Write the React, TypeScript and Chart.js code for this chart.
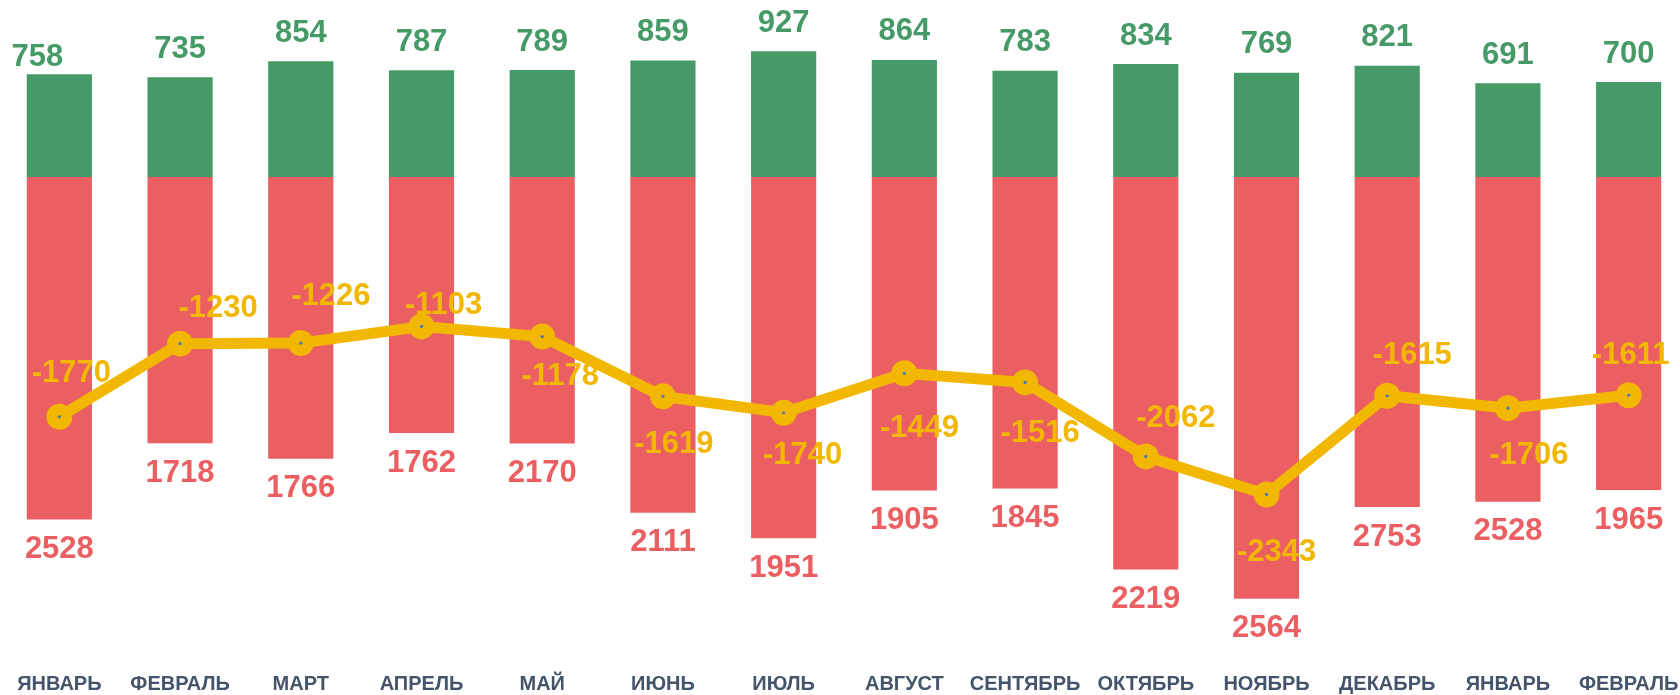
import React, { useEffect, useRef } from "react";
import { Chart, registerables } from "chart.js";

Chart.register(...registerables);

const months = [
  "ЯНВАРЬ", "ФЕВРАЛЬ", "МАРТ", "АПРЕЛЬ", "МАЙ", "ИЮНЬ", "ИЮЛЬ",
  "АВГУСТ", "СЕНТЯБРЬ", "ОКТЯБРЬ", "НОЯБРЬ", "ДЕКАБРЬ", "ЯНВАРЬ", "ФЕВРАЛЬ",
];
const incomeValues = [758, 735, 854, 787, 789, 859, 927, 864, 783, 834, 769, 821, 691, 700];
const expenseValues = [2528, 1965, 2080, 1890, 1967, 2478, 2667, 2313, 2299, 2896, 3112, 2436, 2397, 2311];
const expenseLabels = [2528, 1718, 1766, 1762, 2170, 2111, 1951, 1905, 1845, 2219, 2564, 2753, 2528, 1965];
const netValues = [-1770, -1230, -1226, -1103, -1178, -1619, -1740, -1449, -1516, -2062, -2343, -1615, -1706, -1611];

// label placement (pixel offsets from the point), styling only
const netLabelOffsets: [number, number][] = [
  [12, -43], [38, -35], [30, -47], [22, -21], [18, 40], [11, 48], [19, 43],
  [15, 55], [15, 51], [30, -38], [10, 58], [25, -40], [21, 47], [2, -40],
];
const incomeLabelShift: [number, number][] = [
  [-22, 11], [0, 0], [0, 0], [0, 0], [0, 0], [0, 0], [0, 0],
  [0, 0], [0, 0], [0, 0], [0, 0], [0, 0], [0, 0], [0, 0],
];

const GREEN = "#459a68";
const RED = "#eb5f62";
const YELLOW = "#f2b700";
const MONTH_COLOR = "#44546a";
const DOT = "#4a76b5";
const FONT = '"Liberation Sans", Arial, sans-serif';

const labelsPlugin = {
  id: "customLabels",
  afterDatasetsDraw(chart: any) {
    const ctx = chart.ctx;
    ctx.save();
    ctx.textAlign = "center";
    ctx.textBaseline = "middle";
    ctx.font = `bold 31px ${FONT}`;
    const green = chart.getDatasetMeta(0).data;
    const red = chart.getDatasetMeta(1).data;
    const line = chart.getDatasetMeta(2).data;
    green.forEach((el: any, i: number) => {
      ctx.fillStyle = GREEN;
      const [dx, dy] = incomeLabelShift[i];
      ctx.fillText(String(incomeValues[i]), el.x + dx, el.y - 28 + dy);
    });
    red.forEach((el: any, i: number) => {
      ctx.fillStyle = RED;
      ctx.fillText(String(expenseLabels[i]), el.x, el.y + 30);
    });
    line.forEach((el: any, i: number) => {
      ctx.fillStyle = YELLOW;
      const [dx, dy] = netLabelOffsets[i];
      ctx.fillText(String(netValues[i]), el.x + dx, el.y + dy);
    });
    // month labels along the bottom
    const xScale = chart.scales.x;
    ctx.font = `bold 20px ${FONT}`;
    ctx.fillStyle = MONTH_COLOR;
    months.forEach((m, i) => {
      ctx.fillText(m, xScale.getPixelForValue(i), 684);
    });
    ctx.restore();
  },
};

export default function App() {
  const ref = useRef<HTMLCanvasElement | null>(null);
  useEffect(() => {
    if (!ref.current) return;
    const chart = new Chart(ref.current, {
      type: "bar",
      data: {
        labels: months,
        datasets: [
          {
            type: "bar",
            label: "income",
            data: incomeValues,
            backgroundColor: GREEN,
            barPercentage: 0.54,
            categoryPercentage: 1,
            order: 3,
          },
          {
            type: "bar",
            label: "expense",
            data: expenseValues.map((v) => -v),
            backgroundColor: RED,
            barPercentage: 0.54,
            categoryPercentage: 1,
            order: 4,
          },
          {
            type: "line",
            label: "net",
            data: netValues,
            stack: "net",
            borderColor: YELLOW,
            borderWidth: 11,
            pointRadius: 13,
            pointBackgroundColor: YELLOW,
            pointBorderWidth: 0,
            tension: 0,
            order: 1,
          },
          {
            type: "line",
            label: "dots",
            data: netValues,
            stack: "dots",
            showLine: false,
            pointRadius: 1.6,
            pointBackgroundColor: DOT,
            pointBorderWidth: 0,
            order: 0,
          },
        ],
      } as any,
      options: {
        animation: false,
        responsive: false,
        layout: { padding: 0, autoPadding: false },
        plugins: { legend: { display: false }, tooltip: { enabled: false } },
        scales: {
          x: { display: false, stacked: true, offset: true },
          y: { display: false, stacked: true, min: -3823, max: 1306 },
        },
      } as any,
      plugins: [labelsPlugin],
    });
    return () => chart.destroy();
  }, []);
  return (
    <div
      style={{
        position: "fixed",
        left: 0,
        top: 0,
        width: 1680,
        height: 695,
        overflow: "hidden",
        background: "#fff",
      }}
    >
      <canvas
        ref={ref}
        width={1690}
        height={695}
        style={{ position: "absolute", left: -1, top: 0, width: 1690, height: 695 }}
      />
    </div>
  );
}
